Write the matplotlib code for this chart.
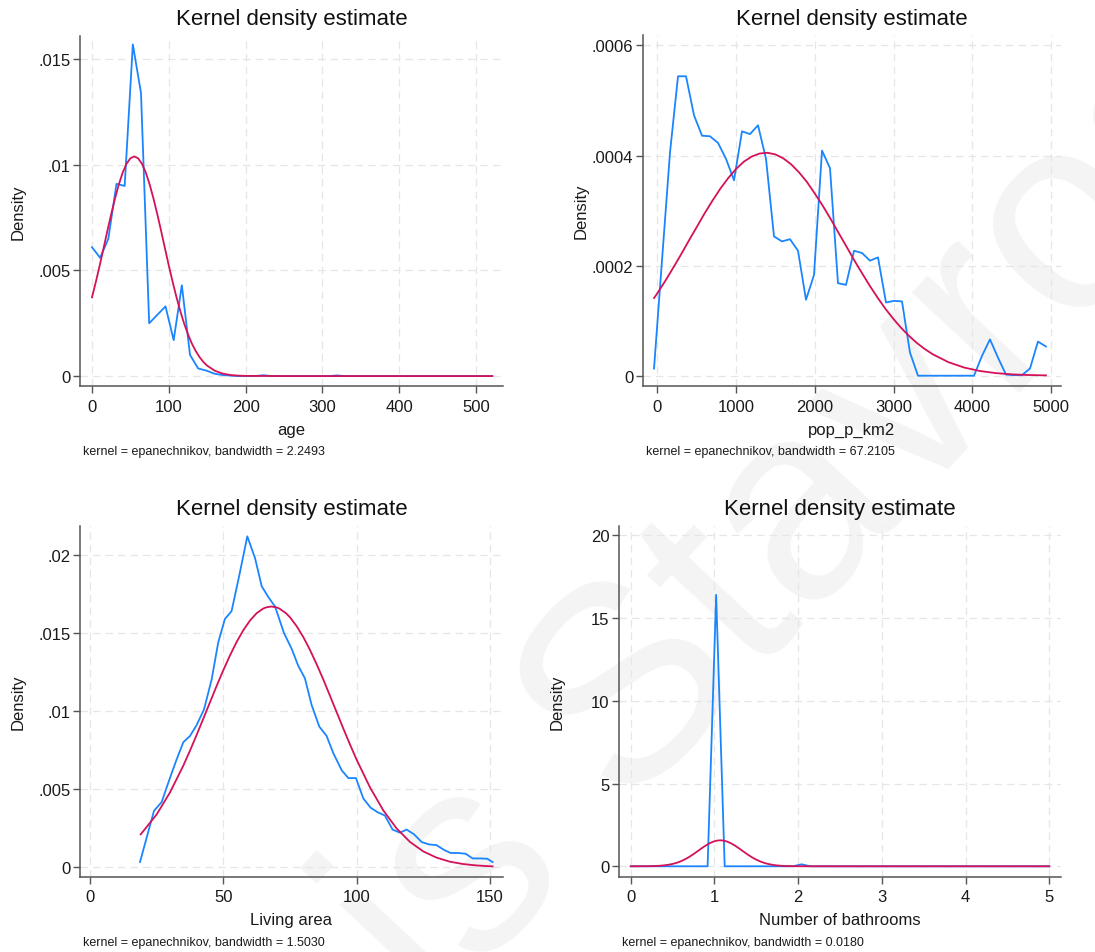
import numpy as np
import matplotlib
matplotlib.use("Agg")
import matplotlib.pyplot as plt

plt.rcParams['font.family'] = ['Liberation Sans', 'DejaVu Sans']

W, H = 1095, 953
BLUE = '#1a85ff'
RED = '#d41159'
AXC = '#555555'

# ---- panel 1: age ----
age_grid = np.linspace(0, 521, 50)
age_kde = [0.0061, 0.0056, 0.0065, 0.0091, 0.0090, 0.0157, 0.0134, 0.0025, 0.0029, 0.0033,
           0.0017, 0.0043, 0.0010, 0.00036, 0.00026, 0.00011, 0.00005, 0.00002, 0, 0,
           0, 0.00004, 0, 0, 0, 0, 0, 0, 0, 0,
           0.00003, 0, 0, 0, 0, 0, 0, 0, 0, 0,
           0, 0, 0, 0, 0, 0, 0, 0, 0, 0]
age_nx = [0, 5, 10, 15, 20, 25, 30, 35, 40, 45, 50, 55, 60, 65, 70, 75, 80, 85, 90, 95, 100,
          105, 110, 115, 120, 125, 130, 135, 140, 145, 150, 160, 170, 180, 190, 200, 250, 521]
age_norm = [0.00373, 0.004455, 0.00523, 0.006045, 0.00687, 0.007665, 0.00841, 0.009081,
            0.00964, 0.010053, 0.01031, 0.0104, 0.01031, 0.010053, 0.00964, 0.009081, 0.00841,
            0.007665, 0.00687, 0.006045, 0.00523, 0.004455, 0.00373, 0.003068, 0.00248,
            0.001974, 0.00154, 0.001187, 0.00090, 0.000667, 0.00049, 0.00025, 0.00012,
            0.00005, 0.0000215, 0.00001, 0, 0]
age_xticks = [0, 100, 200, 300, 400, 500]
age_yticks = [0, 0.005, 0.01, 0.015]
age_ylabels = ['0', '.005', '.01', '.015']

# ---- panel 2: pop_p_km2 ----
pop_grid = np.linspace(-42, 4936, 50)
pop_kde = [0.000013, 0.00021, 0.000406, 0.000544, 0.000544, 0.000473, 0.000436, 0.000435,
           0.000423, 0.000394, 0.000355, 0.000444, 0.000439, 0.000455, 0.000394, 0.000253,
           0.000244, 0.000248, 0.000227, 0.000138, 0.000183, 0.000409, 0.000377, 0.000168,
           0.000165, 0.000227, 0.000223, 0.000209, 0.000215, 0.000133, 0.000136, 0.000135,
           0.000042, 0, 0, 0, 0, 0, 0, 0,
           0, 0.000036, 0.000066, 0.000033, 0.000002, 0.000001, 0.000001, 0.000013,
           0.000062, 0.000053]
pop_nx = [-42, 0, 100, 200, 300, 400, 500, 600, 700, 800, 900, 1000, 1100, 1200, 1300, 1400,
          1500, 1600, 1700, 1800, 1900, 2000, 2100, 2200, 2300, 2400, 2500, 2600, 2700, 2800,
          2900, 3000, 3100, 3200, 3300, 3400, 3500, 3700, 3900, 4100, 4300, 4500, 4700, 4936]
pop_norm = [0.000141, 0.0001498, 0.000172, 0.0001957, 0.000220, 0.0002453, 0.000270,
            0.0002948, 0.000318, 0.0003398, 0.000359, 0.0003756, 0.000389, 0.0003982,
            0.0004037, 0.000405, 0.000402, 0.0003949, 0.000384, 0.0003694, 0.000352, 0.000331,
            0.000309, 0.0002851, 0.000260, 0.0002352, 0.000210, 0.0001862, 0.000163,
            0.0001413, 0.000121, 0.0001029, 0.0000864, 0.0000718, 0.0000591, 0.0000481,
            0.0000388, 0.0000244, 0.0000147, 0.0000085, 0.0000047, 0.0000025, 0.0000013,
            0.0000006]
pop_xticks = [0, 1000, 2000, 3000, 4000, 5000]
pop_yticks = [0, 0.0002, 0.0004, 0.0006]
pop_ylabels = ['0', '.0002', '.0004', '.0006']

# ---- panel 3: living area ----
area_x = [18.75, 24, 26.9, 28.75, 30.6, 32.5, 35, 37.5, 40, 42.75, 45.6, 48.1, 50.6, 53.1,
          56, 59, 61.9, 64.4, 66.9, 69.4, 72.75, 75.6, 78.1, 80.6, 83.1, 86, 88.75, 91.25,
          94.4, 96.9, 99.75, 102.5, 105.25, 108, 110.6, 113.5, 116.25, 118.75, 121.5, 124.4,
          127.1, 130, 132.75, 135.25, 138, 140.9, 143.5, 146.25, 149, 151]
area_kde = [0.00032, 0.0036, 0.00417, 0.0051, 0.0060, 0.0069, 0.0080, 0.0084, 0.0091, 0.0101,
            0.0120, 0.0144, 0.0159, 0.0164, 0.0187, 0.0212, 0.0198, 0.0180, 0.0173, 0.0167,
            0.0150, 0.0140, 0.0129, 0.0121, 0.0104, 0.0090, 0.0084, 0.0073, 0.0062, 0.0057,
            0.0057, 0.0044, 0.0038, 0.0035, 0.0033, 0.0024, 0.0022, 0.0024, 0.0021, 0.0016,
            0.00145, 0.0014, 0.0011, 0.0009, 0.0009, 0.00085, 0.00055, 0.00055, 0.00053, 0.00032]
area_nx = [19, 25, 30, 35, 37.5, 40, 42.5, 45, 47.5, 50, 52.5, 55, 57.5, 60, 62.5, 65, 66, 68,
           70, 71, 73.5, 75, 77.5, 80, 82.5, 85, 87.5, 90, 92.5, 95, 97.5, 100, 105, 110, 115,
           120, 125, 130, 135, 140, 145, 151]
area_norm = [0.00209, 0.00337, 0.00478, 0.00650, 0.00746, 0.00847, 0.00951, 0.01056, 0.01161,
             0.01262, 0.01356, 0.01443, 0.01518, 0.01580, 0.01627, 0.01657, 0.01664, 0.0167,
             0.01664, 0.01657, 0.01627, 0.01601, 0.01544, 0.01474, 0.01392, 0.01300, 0.01202,
             0.01098, 0.00993, 0.00888, 0.00786, 0.00688, 0.00511, 0.00363, 0.00247, 0.00161,
             0.00100, 0.00060, 0.00034, 0.00019, 0.0001, 0.00004]
area_xticks = [0, 50, 100, 150]
area_yticks = [0, 0.005, 0.01, 0.015, 0.02]
area_ylabels = ['0', '.005', '.01', '.015', '.02']

# ---- panel 4: bathrooms ----
bath_grid = np.linspace(0, 5, 50)
bath_kde = [0] * 10 + [16.4] + [0] * 9 + [0.12] + [0] * 29
bath_nx = [0, 0.2, 0.3, 0.35, 0.4, 0.45, 0.5, 0.55, 0.6, 0.65, 0.7, 0.75, 0.8, 0.85, 0.9, 0.95,
           1.0, 1.03, 1.07, 1.11, 1.15, 1.2, 1.25, 1.3, 1.35, 1.4, 1.45, 1.5, 1.55, 1.6, 1.65,
           1.7, 1.75, 1.8, 1.85, 1.95, 2.1, 2.5, 5]
bath_norm = [0.0003, 0.006, 0.0196, 0.034, 0.057, 0.092, 0.142, 0.212, 0.306, 0.426, 0.570,
             0.736, 0.916, 1.097, 1.268, 1.411, 1.514, 1.551, 1.57, 1.551, 1.497, 1.386, 1.236,
             1.062, 0.879, 0.702, 0.540, 0.400, 0.286, 0.197, 0.130, 0.083, 0.051, 0.030,
             0.017, 0.005, 0.001, 0, 0]
bath_xticks = [0, 1, 2, 3, 4, 5]
bath_yticks = [0, 5, 10, 15, 20]
bath_ylabels = ['0', '5', '10', '15', '20']

fig = plt.figure(figsize=(W / 100, H / 100), dpi=100)

# faint watermark behind the plots
fig.text(436 / W, 1 - 1019 / H, 'is Stavros', fontsize=201, color='#f4f4f4',
         rotation=47, rotation_mode='anchor', ha='left', va='baseline', zorder=-1)


def panel(box, xlim, ylim, kx, ky, nx, ny, xticks, yticks, ylabels, xlabel, note):
    l, t, r, b = box
    ax = fig.add_axes([l / W, 1 - b / H, (r - l) / W, (b - t) / H])
    ax.set_facecolor('none')
    ax.plot(kx, ky, color=BLUE, lw=1.3, zorder=3)
    ax.plot(nx, ny, color=RED, lw=1.3, zorder=4)
    ax.set_xlim(xlim)
    ax.set_ylim(ylim)
    ax.set_xticks(xticks)
    ax.set_xticklabels([str(v) for v in xticks])
    ax.set_yticks(yticks)
    ax.set_yticklabels(ylabels)
    ax.grid(True, color='#e6e6e6', lw=0.9, ls=(0, (6, 4)))
    ax.set_axisbelow(True)
    for s in ['top', 'right']:
        ax.spines[s].set_visible(False)
    for s in ['left', 'bottom']:
        ax.spines[s].set_color(AXC)
        ax.spines[s].set_linewidth(1.1)
    ax.tick_params(length=5, width=1, color=AXC, labelsize=12, labelcolor='#1a1a1a')
    ax.tick_params(axis='y', pad=2)
    ax.tick_params(axis='x', pad=4)
    cx = (l + r) / 2
    fig.text(cx / W, 1 - (t - 17) / H, 'Kernel density estimate', fontsize=16,
             ha='center', va='center', color='#111111')
    fig.text(cx / W, 1 - (b + 43) / H, xlabel, fontsize=12, ha='center', va='center',
             color='#1a1a1a')
    fig.text((l - 62) / W, 1 - ((t + b) / 2) / H, 'Density', fontsize=12, rotation=90,
             ha='center', va='center', color='#1a1a1a')
    fig.text((l + 3) / W, 1 - (b + 65) / H, note, fontsize=9, ha='left', va='center',
             color='#1a1a1a')
    return ax


panel((80, 37, 503, 387), (-15.6, 535), (-0.00047, 0.0161), age_grid, age_kde, age_nx,
      age_norm, age_xticks, age_yticks, age_ylabels, 'age',
      'kernel = epanechnikov, bandwidth = 2.2493')
panel((643, 36, 1061, 387), (-182, 5127), (-0.0000187, 0.000619), pop_grid, pop_kde, pop_nx,
      pop_norm, pop_xticks, pop_yticks, pop_ylabels, 'pop_p_km2',
      'kernel = epanechnikov, bandwidth = 67.2105')
panel((80, 527, 503, 878), (-3.75, 154.9), (-0.00064, 0.02186), area_x, area_kde, area_nx,
      area_norm, area_xticks, area_yticks, area_ylabels, 'Living area',
      'kernel = epanechnikov, bandwidth = 1.5030')
panel((619, 527, 1061, 878), (-0.14, 5.14), (-0.647, 20.56), bath_grid, bath_kde, bath_nx,
      bath_norm, bath_xticks, bath_yticks, bath_ylabels, 'Number of bathrooms',
      'kernel = epanechnikov, bandwidth = 0.0180')

fig.savefig('out.png', dpi=100)
